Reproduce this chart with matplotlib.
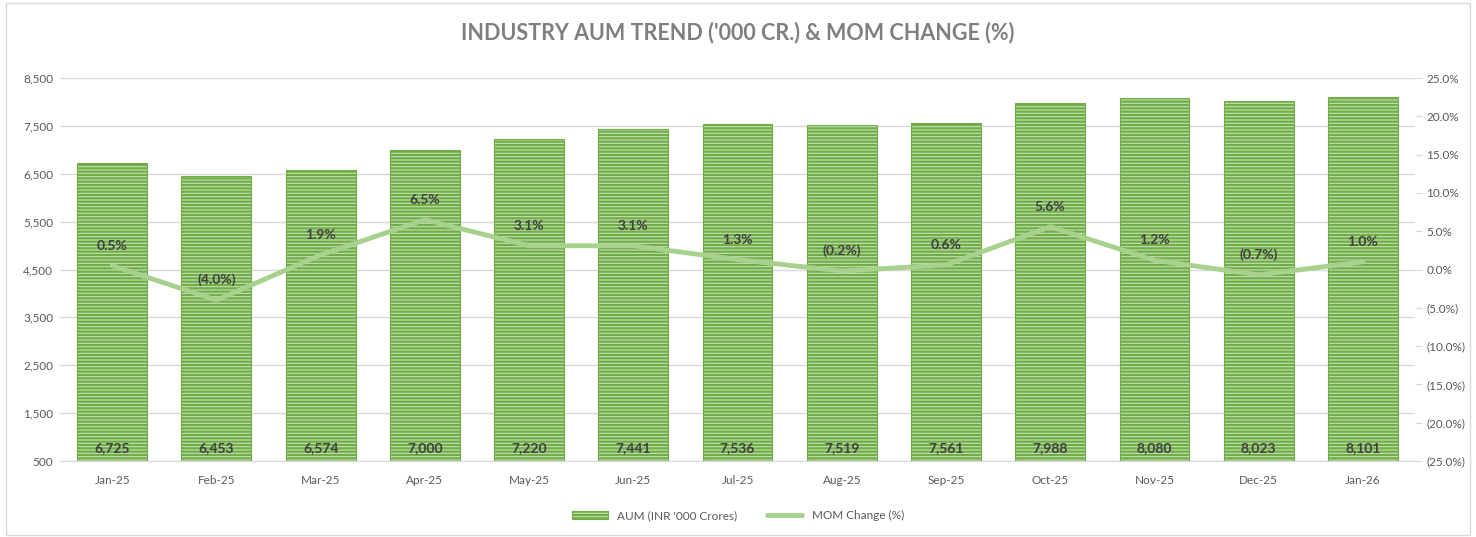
import matplotlib.pyplot as plt
from matplotlib.patches import Rectangle
from matplotlib.ticker import FuncFormatter

plt.rcParams['font.family'] = ['Lato', 'DejaVu Sans']

months = ['Jan-25', 'Feb-25', 'Mar-25', 'Apr-25', 'May-25', 'Jun-25', 'Jul-25',
          'Aug-25', 'Sep-25', 'Oct-25', 'Nov-25', 'Dec-25', 'Jan-26']
aum = [6725, 6453, 6574, 7000, 7220, 7441, 7536, 7519, 7561, 7988, 8080, 8023, 8101]
mom = [0.5, -4.0, 1.9, 6.5, 3.1, 3.1, 1.3, -0.2, 0.6, 5.6, 1.2, -0.7, 1.0]

text_gray = '#595959'
grid_gray = '#d9d9d9'


def pct(v):
    if v < 0:
        return '({:.1f}%)'.format(-v)
    return '{:.1f}%'.format(v)


fig = plt.figure(figsize=(14.76, 5.37), dpi=100)
ax = fig.add_axes([0.0407, 0.1415, 0.918, 0.7132])
ax2 = ax.twinx()

x = list(range(len(months)))
plt.rcParams['hatch.linewidth'] = 1.6
bars = ax.bar(x, aum, width=0.67, bottom=0, color='#c5e0b4', edgecolor='#70ad47',
              hatch='-----', linewidth=0.8, label="AUM (INR '000 Crores)", zorder=2)
for xi, v in zip(x, aum):
    ax.text(xi, 640, '{:,}'.format(v), ha='center', va='bottom', fontsize=10,
            fontweight='bold', color='#404040', zorder=5)

ax.set_ylim(500, 8500)
ax.set_yticks(range(500, 8501, 1000))
ax.yaxis.set_major_formatter(FuncFormatter(lambda v, p: '{:,.0f}'.format(v)))
ax.set_xlim(-0.5, len(months) - 0.5)
ax.set_xticks(x)
ax.set_xticklabels(months)
ax.grid(axis='y', color=grid_gray, linewidth=1, zorder=0)
ax.set_axisbelow(True)
for s in ['top', 'right', 'left']:
    ax.spines[s].set_visible(False)
ax.spines['bottom'].set_color(grid_gray)
ax.tick_params(axis='y', length=0, labelsize=8.5, labelcolor=text_gray, pad=5)
ax.tick_params(axis='x', length=0, labelsize=8.5, labelcolor=text_gray, pad=10)

line, = ax2.plot(x, mom, color='#a9d18e', linewidth=3.5, label='MOM Change (%)',
                 solid_capstyle='round', zorder=4)
for xi, v in zip(x, mom):
    ax2.annotate(pct(v), (xi, v), xytext=(0, 10), textcoords='offset points',
                 ha='center', va='bottom', fontsize=10, fontweight='bold',
                 color='#404040')
ax2.set_ylim(-25, 25)
ax2.set_yticks(range(-25, 26, 5))
ax2.yaxis.set_major_formatter(FuncFormatter(lambda v, p: pct(v)))
for s in ax2.spines.values():
    s.set_visible(False)
ax2.tick_params(axis='y', length=5, color=grid_gray, labelsize=8.5,
                labelcolor=text_gray, pad=3)

fig.text(0.5, 0.94, "INDUSTRY AUM TREND ('000 CR.) & MOM CHANGE (%)", ha='center',
         va='center', fontsize=15.5, fontweight='bold', color='#7f7f7f')

fig.legend(handles=[bars, line], loc='center', bbox_to_anchor=(0.5, 0.04), ncol=2,
           frameon=False, fontsize=8.5, labelcolor=text_gray, handlelength=3,
           columnspacing=2.5)

fig.patches.append(Rectangle((0.004, 0.004), 0.992, 0.99, transform=fig.transFigure,
                             fill=False, edgecolor='#d9d9d9', linewidth=1))

plt.savefig('out.png', dpi=100)
